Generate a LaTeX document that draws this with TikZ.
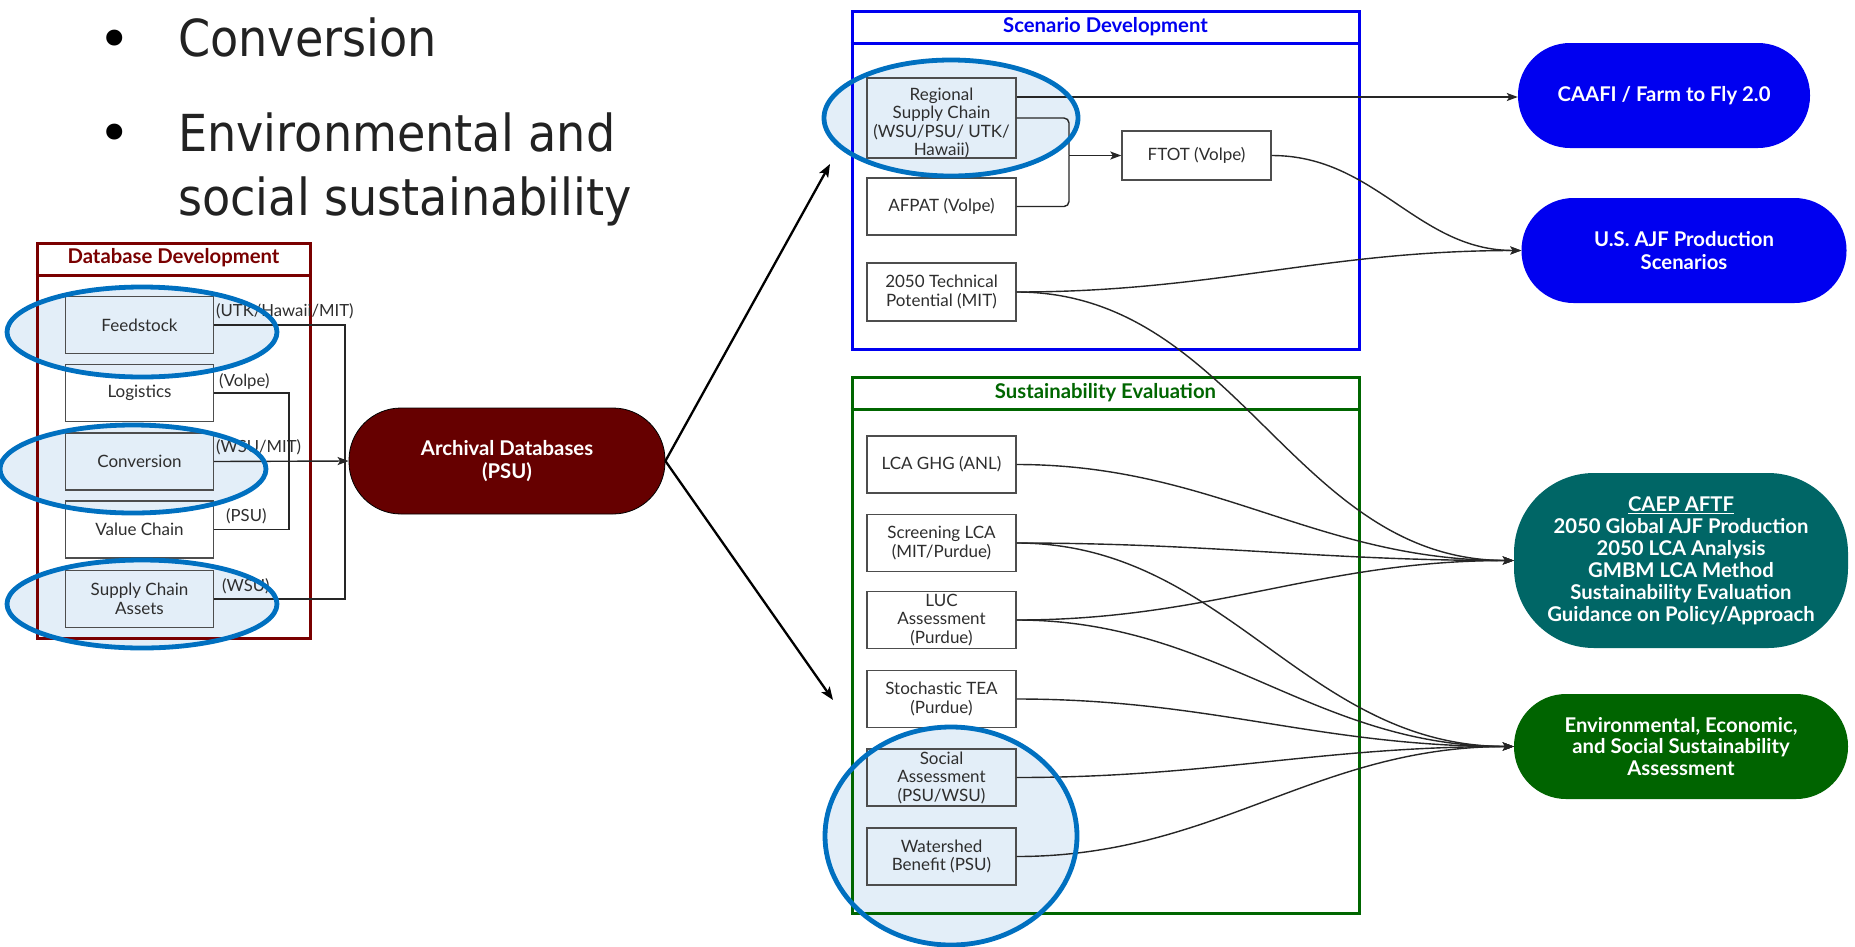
\documentclass[tikz,border=0pt]{standalone}
\usepackage{fontspec}
\usepackage{graphicx}
\setmainfont{Lato}
\newfontfamily\bulletfont{DejaVu Sans}
\usetikzlibrary{arrows.meta}
\definecolor{dbred}{HTML}{7A0000}
\definecolor{archred}{HTML}{660000}
\definecolor{sdblue}{HTML}{0000F0}
\definecolor{segreen}{HTML}{006600}
\definecolor{caepteal}{HTML}{006666}
\definecolor{envgreen}{HTML}{006400}
\definecolor{hlblue}{HTML}{0070C0}
\definecolor{hlfill}{HTML}{E3EEF8}
\definecolor{boxgray}{HTML}{4D4D4D}
\definecolor{txtgray}{HTML}{2E2E2E}
\definecolor{linegray}{HTML}{262626}
\definecolor{bullgray}{HTML}{222222}
\begin{document}
\begin{tikzpicture}[x=1pt,y=-1pt,
 box/.style={draw=boxgray, line width=1.4pt, minimum width=148pt, minimum height=57pt, inner sep=0pt, align=center, text=txtgray, font=\fontsize{17}{18.5}\selectfont},
 boxtext/.style={inner sep=0pt, align=center, text=txtgray, font=\fontsize{17}{18.3}\selectfont},
 lbl/.style={anchor=west, inner sep=0pt, text=txtgray, font=\fontsize{16.7}{18}\selectfont},
 pill/.style={rounded corners=52pt, minimum width=325pt, minimum height=105pt, inner sep=0pt, align=center, text=white, font=\fontsize{20.3}{22.5}\selectfont\bfseries},
 section/.style={draw=#1, line width=3pt, inner sep=0pt},
 sectitle/.style={text=#1, font=\fontsize{20.3}{22}\selectfont\bfseries, inner sep=0pt},
 conn/.style={draw=linegray, line width=1.4pt},
 arr/.style={conn, -{Stealth[length=11pt,width=8pt,inset=2.5pt]}},
 bigarr/.style={draw=black, line width=2.3pt, -{Stealth[length=13pt,width=10pt,inset=3pt]}},
 hl/.style={draw=hlblue, line width=4.8pt},
 bullettext/.style={anchor=base west, inner sep=0pt, text=bullgray, font=\bulletfont\fontsize{51}{60}\selectfont},
 bulletdot/.style={inner sep=0pt, text=black, font=\bulletfont\fontsize{55}{55}\selectfont},
]
\useasboundingbox (0,0) rectangle (1855,946);
\fill[white] (0,0) rectangle (1855,946);

% highlight fills
\fill[hlfill] (142,332) ellipse [x radius=135pt, y radius=45pt];
\fill[hlfill] (133,469) ellipse [x radius=133pt, y radius=44pt];
\fill[hlfill] (142,604) ellipse [x radius=135pt, y radius=44pt];
\fill[hlfill] (951,118) ellipse [x radius=127pt, y radius=58pt];
\fill[hlfill] (951,836) ellipse [x radius=126pt, y radius=109pt];

% bullets
\node[bulletdot] (b1) at (115,44) {•};
\node[bulletdot] (b2) at (115,138) {•};
\node[bullettext] (t1) at (178,56) {\scalebox{0.905}[1]{Conversion}};
\node[bullettext] (t2) at (178,151) {\scalebox{0.905}[1]{Environmental and}};
\node[bullettext] (t3) at (178,215) {\scalebox{0.905}[1]{social sustainability}};

% sections
\node[section=dbred, minimum width=273pt, minimum height=395pt] (db) at (173.5,440.5) {};
\draw[dbred, line width=3pt] (db.west |- 0,275) -- (db.east |- 0,275);
\node[sectitle=dbred] (dbt) at (173.5,258) {Database Development};

\node[section=sdblue, minimum width=507pt, minimum height=338pt] (sd) at (1105.5,180) {};
\draw[sdblue, line width=3pt] (sd.west |- 0,43) -- (sd.east |- 0,43);
\node[sectitle=sdblue] (sdt) at (1105.5,27) {Scenario Development};

\node[section=segreen, minimum width=507pt, minimum height=536pt] (se) at (1105.5,645) {};
\draw[segreen, line width=3pt] (se.west |- 0,409) -- (se.east |- 0,409);
\node[sectitle=segreen] (set) at (1105.5,393) {Sustainability Evaluation};

% database boxes
\node[box] (fs) at (139.5,325) {Feedstock};
\node[box] (lg) at (139.5,393) {Logistics};
\node[box] (cv) at (139.5,461.5) {Conversion};
\node[box] (vc) at (139.5,529.5) {Value Chain};
\node[box] (sca) at (139.5,599) {Supply Chain\\Assets};

\node[lbl] (l1) at (216,311) {(UTK/Hawaii/MIT)};
\node[lbl] (l2) at (219,381) {(Volpe)};
\node[lbl] (l3) at (216,447) {(WSU/MIT)};
\node[lbl] (l4) at (226,516) {(PSU)};
\node[lbl] (l5) at (222,586) {(WSU)};

\node[pill, fill=archred, draw=black, line width=0.8pt, minimum width=316pt, minimum height=106pt] (arch) at (507,461) {Archival Databases\\(PSU)};

\coordinate (ja) at (345,461);
\coordinate (jl) at (289,461);
\draw[conn] (fs.east) -| (ja);
\draw[conn] (sca.east) -| (ja);
\draw[conn] (lg.east) -| (jl) |- (vc.east);
\draw[arr] (cv.east) -- (arch.west);

% scenario boxes
\node[box, minimum width=149pt, minimum height=80pt] (rsc) at (941.5,118) {};
\node[boxtext] (rsctext) at (941.5,123) {Regional\\Supply Chain\\(WSU/PSU/ UTK/\\Hawaii)};
\node[box, minimum width=149pt, minimum height=57pt] (af) at (941.5,206.5) {AFPAT (Volpe)};
\node[box, minimum width=149pt, minimum height=58pt] (tp) at (941.5,292) {2050 Technical\\Potential (MIT)};
\node[box, minimum width=149pt, minimum height=49pt] (ft) at (1196.5,155.5) {FTOT (Volpe)};

% sustainability boxes
\node[box, minimum width=149pt] (lca) at (941.5,464.5) {LCA GHG (ANL)};
\node[box, minimum width=149pt] (scr) at (941.5,543) {Screening LCA\\(MIT/Purdue)};
\node[box, minimum width=149pt] (luc) at (941.5,620) {LUC\\Assessment\\(Purdue)};
\node[box, minimum width=149pt] (sto) at (941.5,699) {Stochastic TEA\\(Purdue)};
\node[box, minimum width=149pt] (soc) at (941.5,777.5) {Social\\Assessment\\(PSU/WSU)};
\node[box, minimum width=149pt] (ws) at (941.5,856.5) {Watershed\\Benefit (PSU)};

% outputs
\node[pill, fill=sdblue, minimum width=292pt] (caafi) at (1664,95.5) {CAAFI / Farm to Fly 2.0};
\node[pill, fill=sdblue] (usajf) at (1684,250.5) {U.S. AJF Production\\Scenarios};
\node[pill, fill=caepteal, minimum width=334pt, minimum height=175pt, rounded corners=80pt, font=\fontsize{20.3}{22}\selectfont\bfseries] (caep) at (1681,560.5) {\underline{CAEP AFTF}\\2050 Global AJF Production\\2050 LCA Analysis\\GMBM LCA Method\\Sustainability Evaluation\\Guidance on Policy/Approach};
\node[pill, fill=envgreen, minimum width=334pt, font=\fontsize{20.3}{21.5}\selectfont\bfseries] (env) at (1681,746.5) {Environmental, Economic,\\and Social Sustainability\\Assessment};

% scenario connectors
\coordinate (jf) at (1069,155.5);
\draw[conn, rounded corners=5pt] (rsc.east) -| (jf);
\draw[conn, rounded corners=5pt] (af.east) -| (jf);
\draw[arr] (jf) -- (ft.west);
\coordinate (r1) at ([yshift=21pt]rsc.east);
\draw[arr] (r1) -- (r1 -| caafi.west);
\draw[arr] (ft.east) to[out=0,in=180] (usajf.west);
\draw[arr] (tp.east) to[out=0,in=180] (usajf.west);
\draw[arr] (tp.east) to[out=0,in=180] (caep.west);

% sustainability connectors
\draw[arr] (lca.east) to[out=0,in=180] (caep.west);
\draw[arr] (scr.east) to[out=0,in=180] (caep.west);
\draw[arr] (luc.east) to[out=0,in=180] (caep.west);
\draw[arr] (scr.east) to[out=0,in=180] (env.west);
\draw[arr] (luc.east) to[out=0,in=180] (env.west);
\draw[arr] (sto.east) to[out=0,in=180] (env.west);
\draw[arr] (soc.east) to[out=0,in=180] (env.west);
\draw[arr] (ws.east) to[out=0,in=180] (env.west);

% archival outgoing
\coordinate (sdtip) at (830,164);
\coordinate (setip) at (833,700);
\draw[bigarr] (arch.east) -- (sdtip);
\draw[bigarr] (arch.east) -- (setip);

% highlight outlines
\draw[hl] (142,332) ellipse [x radius=135pt, y radius=45pt];
\draw[hl] (133,469) ellipse [x radius=133pt, y radius=44pt];
\draw[hl] (142,604) ellipse [x radius=135pt, y radius=44pt];
\draw[hl] (951,118) ellipse [x radius=127pt, y radius=58pt];
\draw[hl] (951,836) ellipse [x radius=126pt, y radius=109pt];
\end{tikzpicture}
\end{document}
